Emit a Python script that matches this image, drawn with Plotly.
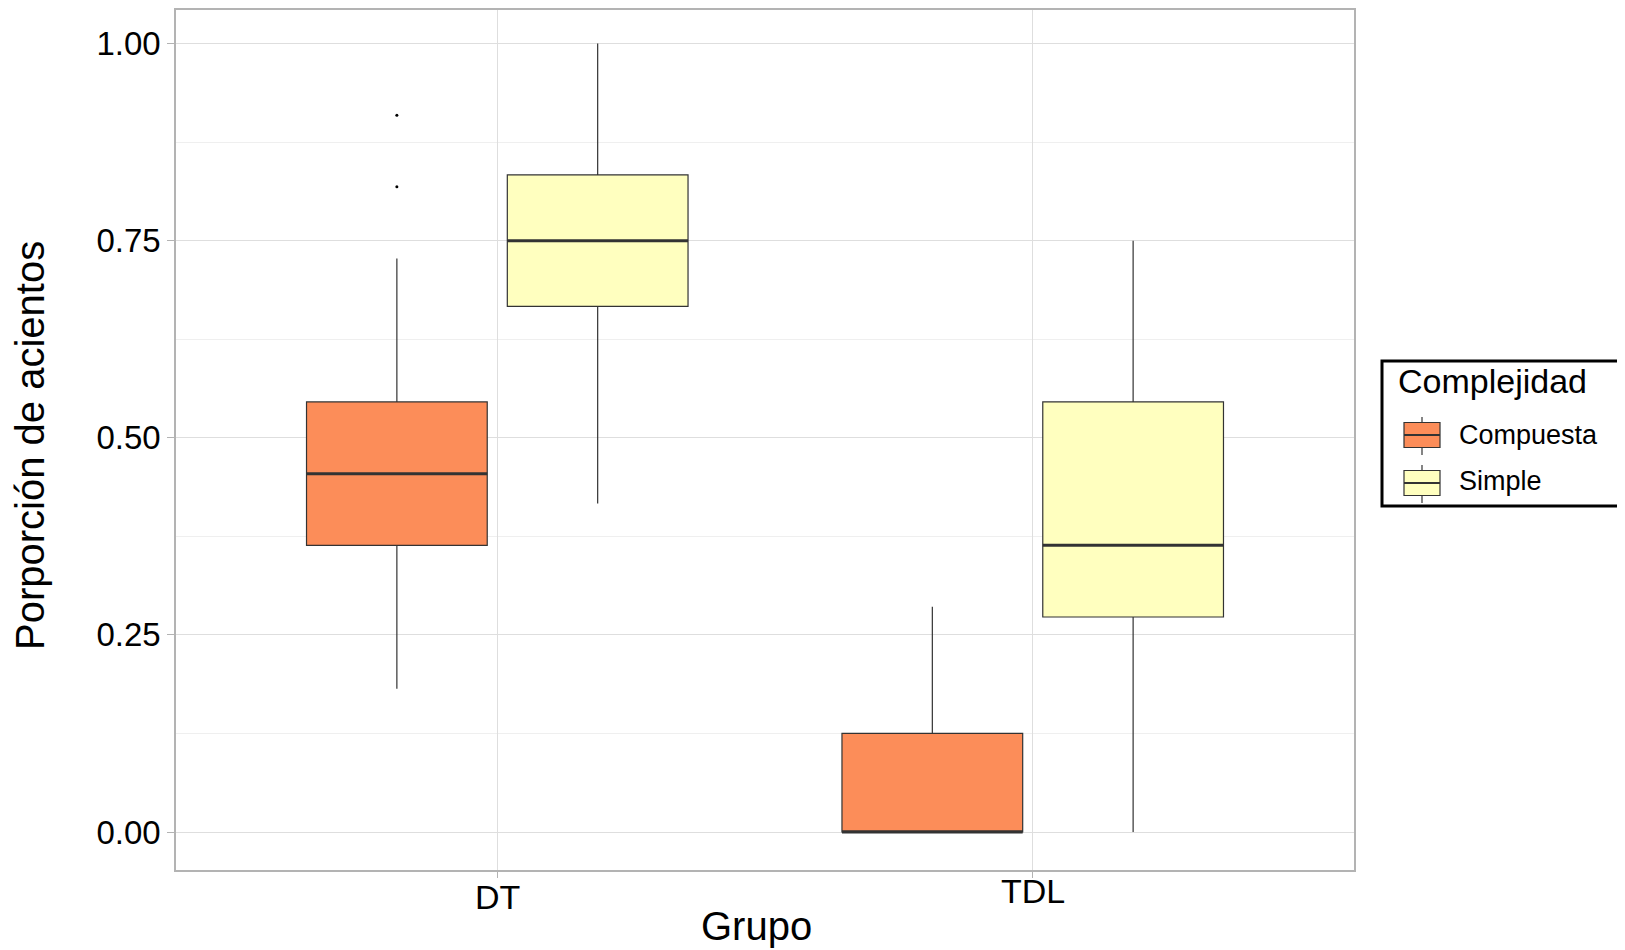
import plotly.graph_objects as go

# ---- data ----
groups = ["DT", "TDL"]
group_pos = [1, 2]
series = ["Compuesta", "Simple"]

compuesta_lower = [0.1818, 0.0]
compuesta_q1 = [0.3636, 0.0]
compuesta_median = [0.4545, 0.0]
compuesta_q3 = [0.5455, 0.125]
compuesta_upper = [0.7273, 0.2857]

simple_lower = [0.4167, 0.0]
simple_q1 = [0.6667, 0.2727]
simple_median = [0.75, 0.3636]
simple_q3 = [0.8333, 0.5455]
simple_upper = [1.0, 0.75]

outlier_group = ["DT", "DT"]
outlier_values = [0.8182, 0.9091]

y_ticks = [0.0, 0.25, 0.5, 0.75, 1.0]
y_ticktext = ["0.00", "0.25", "0.50", "0.75", "1.00"]

x_title = "Grupo"
y_title = "Porporción de acientos"
legend_title = "Complejidad"

# ---- style ----
FONT = "Liberation Sans, Arial, Helvetica, sans-serif"
colors = {"Compuesta": "#FC8D59", "Simple": "#FFFFBF"}
dodge = 0.375
box_w = 0.3375
outline = "#333333"

# page has an 8px body margin, so the figure is sized/positioned to compensate
W, H = 1617, 942
ML, MR, MT, MB = 168, 271, 2, 80
PW, PH = W - ML - MR, H - MT - MB


def px(xp):
    return (xp - ML) / PW


def py(yp):
    return (H - MB - yp) / PH


fig = go.Figure()

stats = {
    "Compuesta": (compuesta_lower, compuesta_q1, compuesta_median, compuesta_q3, compuesta_upper),
    "Simple": (simple_lower, simple_q1, simple_median, simple_q3, simple_upper),
}

for i, name in enumerate(series):
    lo, q1, med, q3, up = stats[name]
    offset = (i - 0.5) * dodge
    xs = [p + offset for p in group_pos]
    fig.add_trace(go.Box(
        name=name, x=xs, q1=q1, median=med, q3=q3,
        lowerfence=lo, upperfence=up,
        width=box_w, whiskerwidth=0,
        fillcolor=colors[name],
        line=dict(color=outline, width=1.2),
        boxpoints=False, hoverinfo="skip",
        showlegend=False,
    ))
    # thicker median lines
    mx, my = [], []
    for x, m in zip(xs, med):
        mx += [x - box_w / 2, x + box_w / 2, None]
        my += [m, m, None]
    fig.add_trace(go.Scatter(
        x=mx, y=my, mode="lines",
        line=dict(color=outline, width=3),
        showlegend=False, hoverinfo="skip",
    ))

# outliers (Compuesta)
ox = [group_pos[groups.index(g)] - 0.5 * dodge for g in outlier_group]
fig.add_trace(go.Scatter(
    x=ox, y=outlier_values, mode="markers",
    marker=dict(color="black", size=3),
    showlegend=False, hoverinfo="skip",
))

shapes = []
annotations = []

# ---- x tick labels and axis titles as text ----
label_top = {"DT": 868, "TDL": 862}
for g, pos in zip(groups, group_pos):
    annotations.append(dict(text=g, xref="x", yref="paper", x=pos, y=py(label_top[g]),
                            xanchor="center", yanchor="top", showarrow=False,
                            font=dict(size=34)))
annotations.append(dict(text=x_title, xref="paper", yref="paper",
                        x=px(748), y=py(894), xanchor="center", yanchor="top",
                        showarrow=False, font=dict(size=40)))
annotations.append(dict(text=y_title, xref="paper", yref="paper", textangle=-90,
                        x=px(22), y=py(438), xanchor="center", yanchor="middle",
                        showarrow=False, font=dict(size=40)))

# ---- legend drawn as layout decoration (ggplot-style keys) ----
shapes.append(dict(type="rect", xref="paper", yref="paper",
                   x0=px(1374), x1=px(1612), y0=py(498), y1=py(353),
                   line=dict(color="black", width=3), fillcolor="white", layer="above"))
annotations.append(dict(text=legend_title, xref="paper", yref="paper",
                        x=px(1388), y=py(352), xanchor="left", yanchor="top",
                        showarrow=False, font=dict(size=34)))
key_centers = [427, 475]
label_tops = [410, 456]
for name, cy, lt in zip(series, key_centers, label_tops):
    shapes.append(dict(type="line", xref="paper", yref="paper",
                       x0=px(1414), x1=px(1414), y0=py(cy - 18), y1=py(cy + 20),
                       line=dict(color=outline, width=1.2), layer="above"))
    shapes.append(dict(type="rect", xref="paper", yref="paper",
                       x0=px(1396), x1=px(1432), y0=py(cy + 12.5), y1=py(cy - 12.5),
                       line=dict(color=outline, width=1.2), fillcolor=colors[name], layer="above"))
    shapes.append(dict(type="line", xref="paper", yref="paper",
                       x0=px(1396), x1=px(1432), y0=py(cy), y1=py(cy),
                       line=dict(color=outline, width=2), layer="above"))
    annotations.append(dict(text=name, xref="paper", yref="paper",
                            x=px(1449), y=py(lt), xanchor="left", yanchor="top",
                            showarrow=False, font=dict(size=27)))

fig.update_layout(
    width=W, height=H,
    paper_bgcolor="white", plot_bgcolor="white",
    font=dict(family=FONT, color="black", size=33),
    margin=dict(l=ML, r=MR, t=MT, b=MB, autoexpand=False),
    boxmode="overlay",
    showlegend=False,
    shapes=shapes,
    annotations=annotations,
    xaxis=dict(
        range=[0.4, 2.6],
        tickvals=group_pos, showticklabels=False,
        showgrid=True, gridcolor="#dedede", gridwidth=1,
        zeroline=False, automargin=False,
        showline=True, linecolor="#b3b3b3", linewidth=1.5, mirror=True,
        ticks="outside", ticklen=6, tickcolor="#b3b3b3", tickwidth=1,
    ),
    yaxis=dict(
        range=[-0.0482, 1.0425],
        tickvals=y_ticks, ticktext=y_ticktext,
        showgrid=True, gridcolor="#dedede", gridwidth=1,
        minor=dict(tickvals=[0.125, 0.375, 0.625, 0.875], showgrid=True,
                   gridcolor="#efefef", gridwidth=0.8, ticks=""),
        zeroline=False, automargin=False,
        showline=True, linecolor="#b3b3b3", linewidth=1.5, mirror=True,
        ticks="outside", ticklen=7, tickcolor="#b3b3b3", tickwidth=1,
        tickfont=dict(size=33),
    ),
)

fig.write_html("out.html")
